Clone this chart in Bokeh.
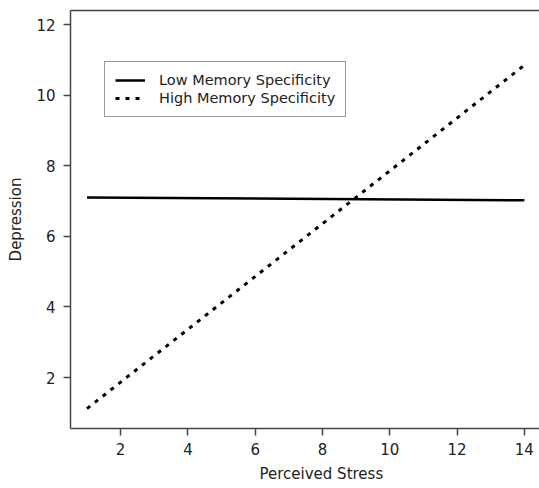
from bokeh.plotting import figure
from bokeh.models import Range1d, FixedTicker, Legend, LegendItem, LinearAxis, Title
from bokeh.embed import file_html
from bokeh.resources import INLINE

# Data
stress_low = [1, 14]
depr_low = [7.1, 7.02]
stress_high = [1, 14]
depr_high = [1.12, 10.85]
x_ticks = [2, 4, 6, 8, 10, 12, 14]
y_ticks = [2, 4, 6, 8, 10, 12]

FONT = "DejaVu Sans"
TXT = "#222222"
AX = "#444444"

p = figure(width=539, height=488, output_backend="svg", toolbar_location=None,
           x_range=Range1d(0.51, 14.45), y_range=Range1d(0.555, 12.4),
           min_border_left=70, min_border_right=0, min_border_top=10, min_border_bottom=60)
p.outline_line_color = None
p.grid.visible = False
p.background_fill_color = "white"
p.border_fill_color = "white"

r_low = p.line(stress_low, depr_low, line_color="black", line_width=2.5)
r_high = p.line(stress_high, depr_high, line_color="black", line_width=3, line_dash="4 6")

for ax in (p.xaxis[0], p.yaxis[0]):
    ax.axis_line_color = AX
    ax.axis_line_width = 1.5
    ax.major_tick_line_color = AX
    ax.major_tick_line_width = 1.5
    ax.major_tick_out = 7
    ax.major_tick_in = 0
    ax.minor_tick_line_color = None
    ax.major_label_text_font = FONT
    ax.major_label_text_font_size = "15px"
    ax.major_label_text_color = TXT
    ax.axis_label_text_font = FONT
    ax.axis_label_text_font_size = "15px"
    ax.axis_label_text_font_style = "normal"
    ax.axis_label_text_color = TXT

p.xaxis.ticker = FixedTicker(ticks=x_ticks)
p.yaxis.ticker = FixedTicker(ticks=y_ticks)
p.yaxis.axis_label = "Depression"
p.xaxis.major_label_standoff = 7
p.yaxis.major_label_standoff = 8
p.yaxis.axis_label_standoff = 8

top = LinearAxis(ticker=FixedTicker(ticks=[]), major_label_text_font_size="0px",
                 axis_line_color=AX, axis_line_width=1.5, major_tick_line_color=None,
                 minor_tick_line_color=None)
p.add_layout(top, "above")

xlabel = Title(text="Perceived Stress", align="left", offset=189,
               text_font=FONT, text_font_size="15px", text_color=TXT,
               text_font_style="normal", standoff=11)
p.add_layout(xlabel, "below")

legend = Legend(items=[LegendItem(label="Low Memory Specificity", renderers=[r_low]),
                       LegendItem(label="High Memory Specificity", renderers=[r_high])],
                location=(34, 311))
legend.label_text_font = FONT
legend.label_text_font_size = "14.5px"
legend.label_text_color = TXT
legend.border_line_color = "#333333"
legend.border_line_width = 1.5
legend.padding = 10
legend.margin = 0
legend.spacing = 2
legend.glyph_width = 30
legend.glyph_height = 16
legend.label_height = 16
legend.label_standoff = 14
legend.background_fill_alpha = 1
p.add_layout(legend, "center")

open("out.html", "w").write(file_html(p, INLINE))
